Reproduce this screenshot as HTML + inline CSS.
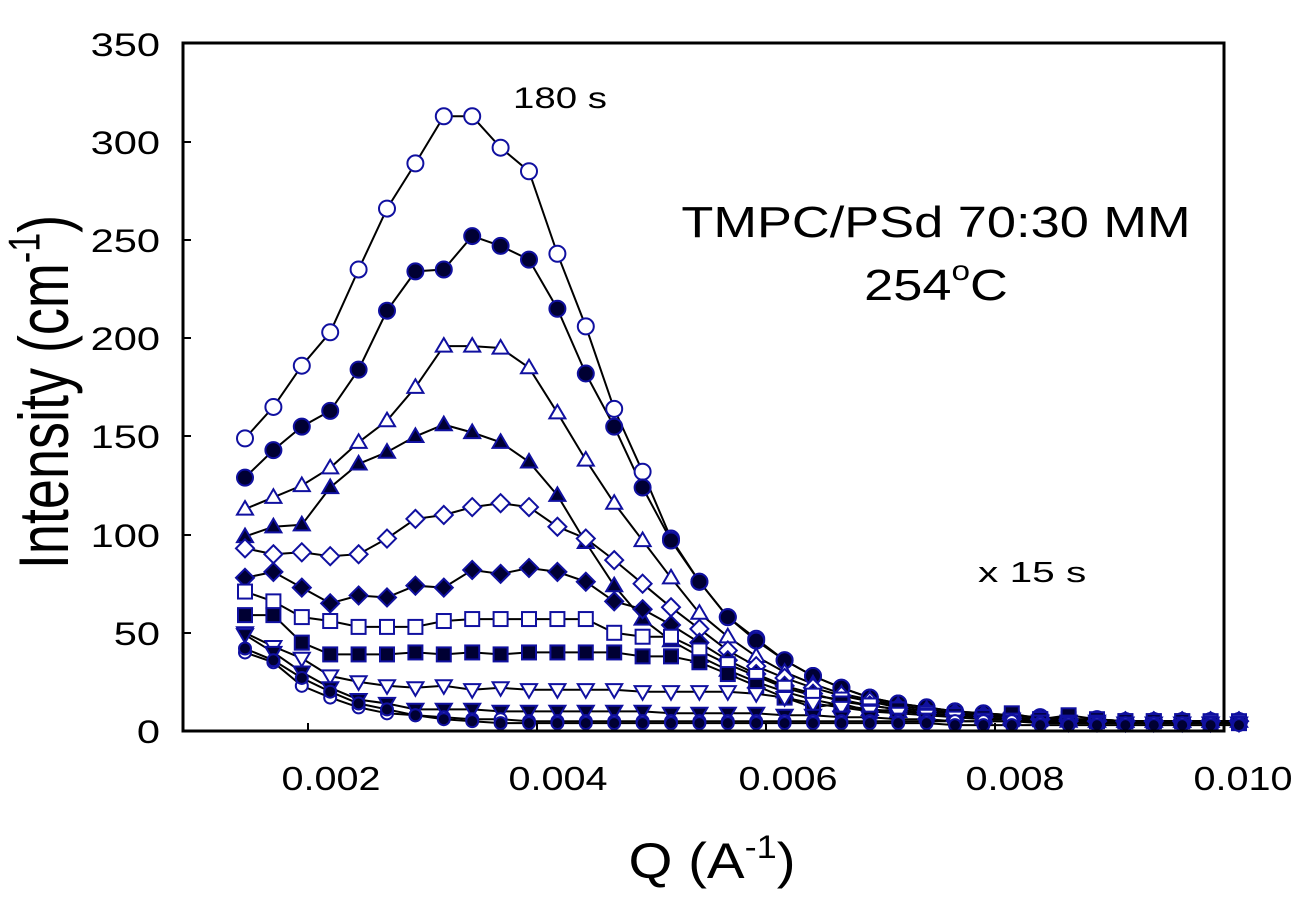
<!DOCTYPE html>
<html><head><meta charset="utf-8"><style>
html,body{margin:0;padding:0;background:#fff;}
svg{display:block;font-family:"Liberation Sans",sans-serif;}
</style></head><body>
<svg id="s" width="1292" height="898" viewBox="0 0 1292 898" xmlns="http://www.w3.org/2000/svg">
<rect width="1292" height="898" fill="#fff"/>
<g id="data"></g>
<rect x="183" y="43" width="1041" height="688" fill="none" stroke="#000" stroke-width="3"/>
<g stroke="#000" stroke-width="2">
<line x1="183" y1="633" x2="191" y2="633"/><line x1="183" y1="535" x2="191" y2="535"/>
<line x1="183" y1="436" x2="191" y2="436"/><line x1="183" y1="338" x2="191" y2="338"/>
<line x1="183" y1="240" x2="191" y2="240"/><line x1="183" y1="142" x2="191" y2="142"/>
<line x1="308" y1="731" x2="308" y2="723"/><line x1="537" y1="731" x2="537" y2="723"/>
<line x1="766" y1="731" x2="766" y2="723"/><line x1="995" y1="731" x2="995" y2="723"/>
</g>
<g font-size="32" fill="#000" text-anchor="end">
<text transform="translate(160,743) scale(1.3,1)">0</text>
<text transform="translate(160,645) scale(1.3,1)">50</text>
<text transform="translate(160,547) scale(1.3,1)">100</text>
<text transform="translate(160,448) scale(1.3,1)">150</text>
<text transform="translate(160,350) scale(1.3,1)">200</text>
<text transform="translate(160,252) scale(1.3,1)">250</text>
<text transform="translate(160,154) scale(1.3,1)">300</text>
<text transform="translate(160,56) scale(1.3,1)">350</text>
</g>
<g font-size="33" fill="#000" text-anchor="middle">
<text transform="translate(331,790) scale(1.2,1)">0.002</text>
<text transform="translate(558,790) scale(1.2,1)">0.004</text>
<text transform="translate(788,790) scale(1.2,1)">0.006</text>
<text transform="translate(1015,790) scale(1.2,1)">0.008</text>
<text transform="translate(1243,790) scale(1.2,1)">0.010</text>
</g>
<text transform="translate(68,392) rotate(-90) scale(1,1.3)" font-size="54" text-anchor="middle">Intensity (cm<tspan font-size="34" dy="-22">-1</tspan><tspan dy="22">)</tspan></text>
<text transform="translate(712,878) scale(1.13,1)" font-size="50" text-anchor="middle">Q (A<tspan font-size="32" dy="-20">-1</tspan><tspan dy="20">)</tspan></text>
<text transform="translate(936,237) scale(1.19,1)" font-size="44" text-anchor="middle">TMPC/PSd 70:30 MM</text>
<text transform="translate(936,300) scale(1.19,1)" font-size="44" text-anchor="middle">254<tspan font-size="28" dy="-20">o</tspan><tspan dy="20">C</tspan></text>
<text transform="translate(513,108) scale(1.28,1)" font-size="30">180 s</text>
<text transform="translate(978,582) scale(1.4,1)" font-size="29">x 15 s</text>
</svg>
<script>
var S=[
["oc",[149,165,186,203,235,266,289,313,313,297,285,243,206,164,132,98,76,58,47,36,28,22,17,14,12,10,9,8,7,6,6,5,5,5,5,5]],
["fc",[129,143,155,163,184,214,234,235,252,247,240,215,182,155,124,97,76,58,46,36,28,22,17,14,12,10,9,8,7,6,6,5,5,5,5,5]],
["ot",[113,119,125,134,147,158,175,196,196,195,185,162,138,116,97,78,60,48,38,30,24,19,16,13,11,9,8,7,6,6,5,5,5,5,5,5]],
["ft",[99,104,105,124,136,142,150,156,152,147,137,120,96,74,57,46,38,31,25,20,16,13,11,10,9,8,7,6,6,5,5,5,5,5,5,5]],
["od",[93,90,91,89,90,98,108,110,114,116,114,104,98,87,75,63,52,41,33,27,22,18,15,12,10,9,8,7,6,6,5,5,5,5,5,5]],
["fd",[78,81,73,65,69,68,74,73,82,80,83,81,76,66,62,54,45,36,29,23,19,15,13,11,9,8,7,6,6,5,5,5,5,5,5,5]],
["os",[71,66,58,56,53,53,53,56,57,57,57,57,57,50,48,48,41,34,28,22,18,16,13,11,9,8,7,6,6,6,5,5,5,5,5,5]],
["fs",[59,59,45,39,39,39,40,39,40,39,40,40,40,40,38,38,35,29,23,17,12,14,10,11,8,8,7,9,6,8,6,5,5,5,4,4]],
["ov",[50,43,37,28,25,23,22,23,21,22,21,21,21,21,20,20,20,20,19,17,14,12,10,9,8,7,6,6,5,5,5,4,4,4,4,4]],
["fv",[49,40,30,22,16,14,11,11,11,10,10,10,10,10,10,9,9,9,9,8,8,7,7,6,6,5,5,5,5,4,4,4,4,4,4,4]],
["oh",[40,35,23,17,12,9,8,7,6,6,5,5,5,5,5,5,5,5,5,5,5,5,5,5,5,5,5,5,4,4,4,4,4,4,4,4]],
["fh",[42,36,27,20,14,11,8,6,5,4,4,4,4,4,4,4,4,4,4,4,4,4,4,4,4,3,3,3,3,3,3,3,3,3,3,3]]
];
var g=document.getElementById("data"),h="";
function X(i){return 245+i*28.4;}function Y(v){return 731-1.964*v;}
S.forEach(function(s){var p=s[1].map(function(v,i){return X(i).toFixed(1)+","+Y(v).toFixed(1);}).join(" ");
h+='<polyline points="'+p+'" fill="none" stroke="#000" stroke-width="2"/>';});
S.forEach(function(s){var t=s[0],f=t[0]=="f"?"#000033":"#fff";s[1].forEach(function(v,i){var x=X(i),y=Y(v),r=8,sh=t[1];
var st='fill="'+f+'" stroke="#1010a0" stroke-width="2"';
if(sh=="c"||sh=="h")h+='<circle cx="'+x+'" cy="'+y+'" r="'+(sh=="h"?6:r)+'" '+st+'/>';
else if(sh=="t")h+='<polygon points="'+x+','+(y-r)+' '+(x+r)+','+(y+r*0.7)+' '+(x-r)+','+(y+r*0.7)+'" '+st+'/>';
else if(sh=="v")h+='<polygon points="'+x+','+(y+r)+' '+(x+r)+','+(y-r*0.7)+' '+(x-r)+','+(y-r*0.7)+'" '+st+'/>';
else if(sh=="d")h+='<polygon points="'+x+','+(y-r-1)+' '+(x+r+1)+','+y+' '+x+','+(y+r+1)+' '+(x-r-1)+','+y+'" '+st+'/>';
else if(sh=="s")h+='<rect x="'+(x-7)+'" y="'+(y-7)+'" width="14" height="14" '+st+'/>';});});
g.innerHTML=h;
</script>
</body></html>
